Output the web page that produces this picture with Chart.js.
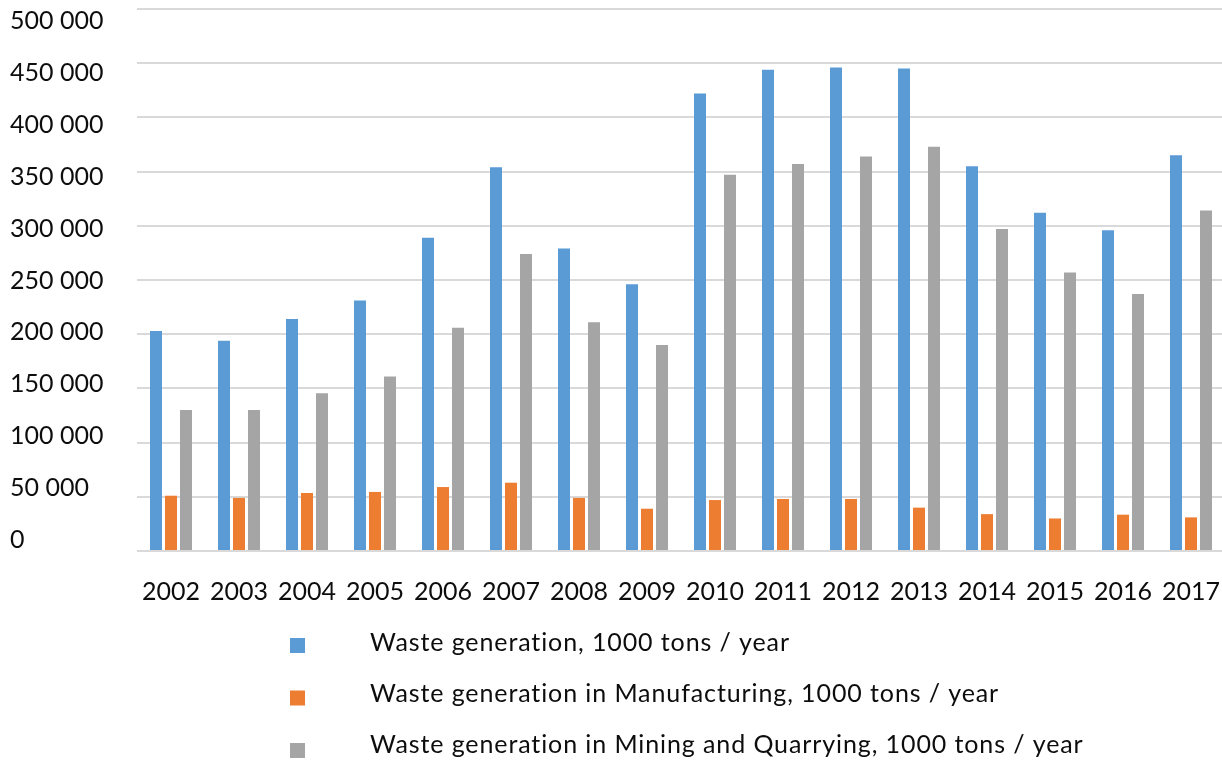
<!DOCTYPE html>
<html>
<head>
<meta charset="utf-8">
<title>Waste generation 2002–2017</title>
<script src="https://cdn.jsdelivr.net/npm/chart.js@4/dist/chart.umd.min.js"></script>
<style>
  html, body { margin: 0; padding: 0; background: #ffffff; overflow: hidden; }
  #wrap { position: relative; width: 1225px; height: 761px; }
</style>
</head>
<body>
<div id="wrap"><canvas id="chart"></canvas></div>
<script>
// Years on the horizontal axis
const years = ['2002', '2003', '2004', '2005', '2006', '2007', '2008', '2009',
               '2010', '2011', '2012', '2013', '2014', '2015', '2016', '2017'];

// Waste generation, 1000 tons / year
const totalWaste = [203000, 194000, 214000, 231000, 289000, 354000, 279000, 246000,
                    422000, 444000, 446000, 445000, 355000, 312000, 296000, 365000];

// Waste generation in Manufacturing, 1000 tons / year
const manufacturingWaste = [51000, 49000, 53500, 54500, 59000, 63000, 49000, 39000,
                            47000, 48000, 48000, 40000, 34000, 30000, 33500, 31000];

// Waste generation in Mining and Quarrying, 1000 tons / year
const miningWaste = [130000, 130000, 145500, 161000, 206000, 274000, 211000, 190000,
                     347000, 357000, 364000, 373000, 297000, 257000, 237000, 314000];

const seriesNames = [
  'Waste generation, 1000 tons / year',
  'Waste generation in Manufacturing, 1000 tons / year',
  'Waste generation in Mining and Quarrying, 1000 tons / year'
];
const seriesColors = ['#5b9bd5', '#ed7d31', '#a5a5a5'];

// Value-axis tick values
const yTickValues = [0, 50000, 100000, 150000, 200000, 250000, 300000, 350000, 400000, 450000, 500000];

const FONT = { family: 'Lato, "Open Sans", sans-serif', size: 25 };
const TEXT_COLOR = '#0d0d0d';
const GRID_COLOR = '#d9d9d9';

// Thousands grouped with a space: 450000 -> "450 000"
const fmt = v => String(v).replace(/\B(?=(\d{3})+(?!\d))/g, ' ');

// The label column runs on its own scale: labels step 519px per 500 000
// while the gridlines step 542px, and the "0" label sits 11px above the baseline.
const AREA_H = 542, LABEL_SPAN = 519, LABEL_ZERO_LIFT = 11;
const labelRange = AREA_H * 500000 / LABEL_SPAN;
const labelMin = -LABEL_ZERO_LIFT * labelRange / AREA_H;
const labelMax = labelMin + labelRange;

// Column-style legend drawn under the axis
const listLegend = {
  id: 'listLegend',
  afterDraw(chart) {
    const ctx = chart.ctx;
    ctx.save();
    ctx.font = `${FONT.size}px ${FONT.family}`;
    ctx.textBaseline = 'middle';
    ctx.textAlign = 'left';
    if ('letterSpacing' in ctx) ctx.letterSpacing = '0.9px';
    chart.data.datasets.forEach((ds, i) => {
      ctx.fillStyle = ds.backgroundColor;
      ctx.fillRect(290, 638 + i * 52.5, 15, 15);
      ctx.fillStyle = TEXT_COLOR;
      ctx.fillText(ds.label, 370, 643 + i * 51);
    });
    ctx.restore();
  }
};

const datasets = [totalWaste, manufacturingWaste, miningWaste].map((values, i) => ({
  label: seriesNames[i],
  data: values,
  backgroundColor: seriesColors[i],
  borderWidth: 0,
  categoryPercentage: 45 / 68,
  barPercentage: 0.8
}));

new Chart(document.getElementById('chart'), {
  type: 'bar',
  data: { labels: years, datasets },
  options: {
    responsive: true,
    maintainAspectRatio: false,
    animation: false,
    events: [],
    layout: { padding: { left: 10, top: 9, right: 0, bottom: 152 } },
    plugins: { legend: { display: false }, tooltip: { enabled: false } },
    scales: {
      x: {
        grid: { display: false, drawTicks: false },
        border: { display: false },
        ticks: { color: TEXT_COLOR, font: FONT, padding: 26, autoSkip: false, maxRotation: 0 },
        afterFit: axis => { axis.height = 58; axis.paddingLeft = 0; axis.paddingRight = 0; }
      },
      y: {
        position: 'left',
        min: 0,
        max: 500000,
        grid: { color: GRID_COLOR, lineWidth: 2, drawTicks: false },
        border: { display: false },
        ticks: { display: false, stepSize: 50000 },
        afterFit: axis => { axis.width = 0; axis.paddingTop = 0; axis.paddingBottom = 0; }
      },
      yLabels: {
        position: 'left',
        min: labelMin,
        max: labelMax,
        grid: { display: false, drawTicks: false },
        border: { display: false },
        afterBuildTicks: axis => { axis.ticks = yTickValues.map(value => ({ value })); },
        afterFit: axis => { axis.width = 127; axis.paddingTop = 0; axis.paddingBottom = 0; },
        ticks: { crossAlign: 'far', padding: 0, color: TEXT_COLOR, font: FONT, callback: v => fmt(v) }
      }
    }
  },
  plugins: [listLegend]
});
</script>
</body>
</html>
